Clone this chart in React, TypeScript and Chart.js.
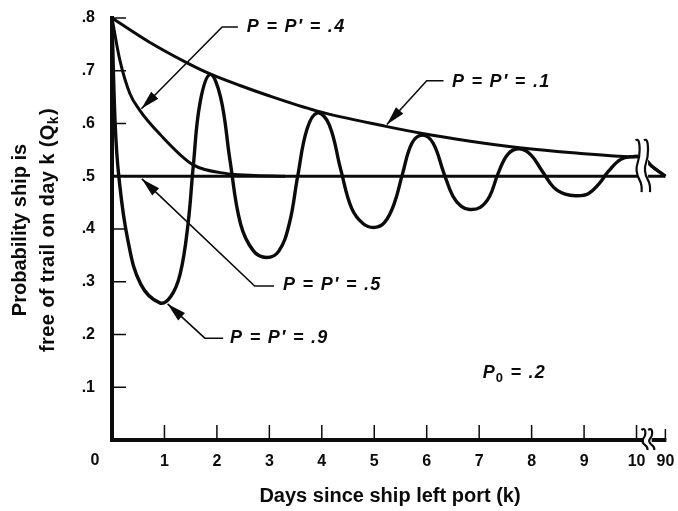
import React, { useEffect, useRef } from 'react';
import { Chart, registerables } from 'chart.js';

Chart.register(...registerables);

const SANS = '"Liberation Sans", Arial, Helvetica, sans-serif';
const INK = '#0b0b0b';

// x axis: days since the ship left port; last tick is day 90 (after an axis break)
const xTickValues = [0, 1, 2, 3, 4, 5, 6, 7, 8, 9, 10, 10.55];
const xTickLabels = ['0', '1', '2', '3', '4', '5', '6', '7', '8', '9', '10', '90'];
const yTickValues = [0, 0.1, 0.2, 0.3, 0.4, 0.5, 0.6, 0.7, 0.8];
const yTickLabels = ['', '.1', '.2', '.3', '.4', '.5', '.6', '.7', '.8'];

// P = P' = .1
const p01Days = [0, 0.7, 1.43, 1.87, 2.44, 2.95, 3.9, 5.2, 5.92, 6.8, 7.77, 8.85, 9.92, 10.12, 10.28, 10.55];
const p01Prob = [0.8, 0.755, 0.715, 0.694, 0.672, 0.654, 0.624, 0.595, 0.581, 0.567, 0.554, 0.544, 0.537, 0.536, 0.52, 0.5];

// P = P' = .4
const p04Days = [0, 0.15, 0.34, 0.53, 0.91, 1.54, 2.19, 2.63, 3.3];
const p04Prob = [0.8, 0.72, 0.657, 0.625, 0.58, 0.522, 0.505, 0.502, 0.5];

// P = P' = .5
const p05Days = [0, 10.55];
const p05Prob = [0.5, 0.5];

// P = P' = .9
const p09Days = [
  0, 0.06, 0.13, 0.3, 0.55, 0.91, 1.12, 1.3, 1.45, 1.55, 1.68, 1.87, 2.07, 2.25, 2.45, 2.7, 2.95, 3.18, 3.38,
  3.54, 3.72, 3.92, 4.14, 4.36, 4.57, 4.79, 5.01, 5.2, 5.38, 5.54, 5.72, 5.92, 6.12, 6.32, 6.5, 6.66, 6.82,
  7.02, 7.2, 7.36, 7.55, 7.77, 7.99, 8.2, 8.42, 8.64, 8.86, 9.08, 9.28, 9.47, 9.7, 9.92, 10.12, 10.28, 10.55,
];
const p09Prob = [
  0.8, 0.6, 0.5, 0.38, 0.295, 0.26, 0.272, 0.315, 0.41, 0.52, 0.64, 0.693, 0.65, 0.53, 0.41, 0.358, 0.346,
  0.358, 0.41, 0.5, 0.59, 0.62, 0.598, 0.513, 0.439, 0.41, 0.403, 0.413, 0.448, 0.505, 0.563, 0.578,
  0.563, 0.508, 0.462, 0.443, 0.437, 0.441, 0.462, 0.505, 0.542, 0.552, 0.54, 0.51, 0.479, 0.466, 0.463,
  0.467, 0.485, 0.51, 0.532, 0.537, 0.536, 0.52, 0.5,
];

// callout labels: text anchor and leader path (data units), last point = arrow tip
const callouts = [
  { text: 'P = P′ = .4', anchor: [2.57, 0.783], path: [[2.4, 0.783], [2.1, 0.783], [0.56, 0.628]] },
  { text: 'P = P′ = .1', anchor: [6.48, 0.679], path: [[6.32, 0.681], [6.0, 0.681], [5.24, 0.598]] },
  { text: 'P = P′ = .5', anchor: [3.26, 0.294], path: [[3.09, 0.292], [2.72, 0.292], [0.57, 0.495]] },
  { text: 'P = P′ = .9', anchor: [2.25, 0.193], path: [[2.12, 0.193], [1.77, 0.193], [1.06, 0.258]] },
];
const p0Note = { main: 'P', sub: '0', rest: ' = .2', anchor: [7.07, 0.127] };

const yTitleLine1 = 'Probability ship is';
const yTitleLine2 = ['free of trail on day k (Q', 'k', ')'];
const xTitle = 'Days since ship left port (k)';

function series(days: number[], prob: number[]) {
  return days.map((d, i) => ({ x: d, y: prob[i] }));
}

function squiggle(ctx: CanvasRenderingContext2D, cx: number, yTop: number, yBot: number) {
  const h = yBot - yTop;
  ctx.beginPath();
  ctx.moveTo(cx - 3, yTop + 1);
  ctx.quadraticCurveTo(cx + 1, yTop - 2, cx + 1, yTop + h * 0.2);
  ctx.bezierCurveTo(cx + 1, yTop + h * 0.45, cx - 3, yTop + h * 0.45, cx - 2, yTop + h * 0.6);
  ctx.bezierCurveTo(cx - 1, yTop + h * 0.8, cx + 4, yTop + h * 0.75, cx + 3, yBot);
  ctx.stroke();
}

const decorations = {
  id: 'decorations',
  afterDatasetsDraw(chart: any) {
    const { ctx, chartArea } = chart;
    const xs = chart.scales.x;
    const ys = chart.scales.y;
    const X = (v: number) => xs.getPixelForValue(v);
    const Y = (v: number) => ys.getPixelForValue(v);
    ctx.save();
    ctx.strokeStyle = INK;
    ctx.fillStyle = INK;

    // break in the curves
    ctx.fillStyle = '#fff';
    ctx.fillRect(X(10.03), Y(0.58), X(10.22) - X(10.03), Y(0.465) - Y(0.58));
    ctx.fillStyle = INK;
    ctx.lineWidth = 2.2;
    squiggle(ctx, X(10.04), Y(0.57), Y(0.47));
    squiggle(ctx, X(10.2), Y(0.57), Y(0.47));

    // axes
    const x0 = X(0);
    const yb = Y(0);
    ctx.lineCap = 'butt';
    ctx.lineWidth = 4;
    ctx.beginPath();
    ctx.moveTo(x0, Y(0.8) - 2);
    ctx.lineTo(x0, yb + 2);
    ctx.stroke();
    ctx.beginPath();
    ctx.moveTo(x0 - 2, yb);
    ctx.lineTo(X(10.14), yb);
    ctx.moveTo(X(10.29), yb);
    ctx.lineTo(X(10.55) + 1, yb);
    ctx.stroke();
    ctx.lineWidth = 2.2;
    squiggle(ctx, X(10.15), yb - 11, yb + 10);
    squiggle(ctx, X(10.28), yb - 11, yb + 10);

    // inner tick marks
    ctx.lineWidth = 1.5;
    ctx.beginPath();
    yTickValues.forEach((v) => {
      if (v === 0) return;
      ctx.moveTo(x0, Y(v));
      ctx.lineTo(x0 + 14, Y(v));
    });
    xTickValues.forEach((v, i) => {
      if (v === 0) return;
      const len = i === xTickValues.length - 1 ? 11 : 15;
      ctx.moveTo(X(v), yb);
      ctx.lineTo(X(v), yb - len);
    });
    ctx.stroke();

    // origin label
    ctx.font = `bold 16px ${SANS}`;
    ctx.textAlign = 'center';
    ctx.textBaseline = 'middle';
    ctx.fillText(xTickLabels[0], x0 - 17, yb + 21);

    // callouts
    callouts.forEach((c) => {
      const pts = c.path.map(([k, q]) => [X(k), Y(q)]);
      ctx.lineWidth = 1.6;
      ctx.beginPath();
      ctx.moveTo(pts[0][0], pts[0][1]);
      for (let i = 1; i < pts.length; i++) ctx.lineTo(pts[i][0], pts[i][1]);
      ctx.stroke();
      const [tx, ty] = pts[pts.length - 1];
      const [px, py] = pts[pts.length - 2];
      const ang = Math.atan2(ty - py, tx - px);
      const L = 19;
      const W = 5;
      const bx = tx - Math.cos(ang) * L;
      const by = ty - Math.sin(ang) * L;
      ctx.beginPath();
      ctx.moveTo(tx, ty);
      ctx.lineTo(bx - Math.sin(ang) * W, by + Math.cos(ang) * W);
      ctx.lineTo(bx + Math.sin(ang) * W, by - Math.cos(ang) * W);
      ctx.closePath();
      ctx.fill();
      ctx.font = `italic bold 18px ${SANS}`;
      ctx.textAlign = 'left';
      ctx.textBaseline = 'middle';
      (ctx as any).letterSpacing = '1.3px';
      ctx.fillText(c.text, X(c.anchor[0]), Y(c.anchor[1]));
      (ctx as any).letterSpacing = '0px';
    });

    // P0 note
    {
      const ax = X(p0Note.anchor[0]);
      const ay = Y(p0Note.anchor[1]);
      ctx.textAlign = 'left';
      ctx.textBaseline = 'middle';
      ctx.font = `italic bold 18px ${SANS}`;
      ctx.fillText(p0Note.main, ax, ay);
      const w1 = ctx.measureText(p0Note.main).width;
      ctx.font = `bold 13px ${SANS}`;
      ctx.fillText(p0Note.sub, ax + w1 + 1, ay + 5);
      const w2 = ctx.measureText(p0Note.sub).width;
      ctx.font = `italic bold 18px ${SANS}`;
      (ctx as any).letterSpacing = '1.3px';
      ctx.fillText(p0Note.rest, ax + w1 + w2 + 2, ay);
      (ctx as any).letterSpacing = '0px';
    }

    // y-axis title (two lines, rotated)
    const midY = (chartArea.top + chartArea.bottom) / 2 + 1;
    ctx.textBaseline = 'alphabetic';
    ctx.save();
    ctx.translate(26, midY);
    ctx.rotate(-Math.PI / 2);
    ctx.font = `bold 20px ${SANS}`;
    ctx.textAlign = 'center';
    ctx.fillText(yTitleLine1, 0, 0);
    ctx.restore();

    ctx.save();
    ctx.translate(54, midY);
    ctx.rotate(-Math.PI / 2);
    ctx.textAlign = 'left';
    (ctx as any).letterSpacing = '0.4px';
    ctx.font = `bold 20px ${SANS}`;
    const a = ctx.measureText(yTitleLine2[0]).width;
    const c2 = ctx.measureText(yTitleLine2[2]).width;
    ctx.font = `bold 14px ${SANS}`;
    const b = ctx.measureText(yTitleLine2[1]).width;
    const start = -(a + b + c2 + 1) / 2;
    ctx.font = `bold 20px ${SANS}`;
    ctx.fillText(yTitleLine2[0], start, 0);
    ctx.font = `bold 14px ${SANS}`;
    ctx.fillText(yTitleLine2[1], start + a, 4);
    ctx.font = `bold 20px ${SANS}`;
    ctx.fillText(yTitleLine2[2], start + a + b + 1, 0);
    (ctx as any).letterSpacing = '0px';
    ctx.restore();

    ctx.restore();
  },
};

export default function App() {
  const ref = useRef<HTMLCanvasElement | null>(null);

  useEffect(() => {
    if (!ref.current) return;
    const line = (days: number[], prob: number[], width: number, smooth: 'monotone' | 'spline') => ({
      data: series(days, prob),
      borderColor: INK,
      borderWidth: width,
      pointRadius: 0,
      fill: false,
      ...(smooth === 'monotone'
        ? { cubicInterpolationMode: 'monotone' as const }
        : { cubicInterpolationMode: 'default' as const, tension: 0.4 }),
    });
    const chart = new Chart(ref.current, {
      type: 'line',
      data: {
        datasets: [
          { label: "P = P' = .1", ...line(p01Days, p01Prob, 3, 'monotone') },
          { label: "P = P' = .4", ...line(p04Days, p04Prob, 3, 'monotone') },
          { label: "P = P' = .5", ...line(p05Days, p05Prob, 3, 'monotone') },
          { label: "P = P' = .9", ...line(p09Days, p09Prob, 3.4, 'spline') },
        ],
      },
      options: {
        responsive: false,
        animation: false,
        devicePixelRatio: 1,
        layout: { padding: { top: 18, right: 10, bottom: 0, left: 0 } },
        plugins: { legend: { display: false }, tooltip: { enabled: false } },
        scales: {
          x: {
            type: 'linear',
            min: 0,
            max: 10.6,
            afterBuildTicks: (s: any) => {
              s.ticks = xTickValues.map((v) => ({ value: v }));
            },
            afterFit: (s: any) => {
              s.height = 71;
            },
            grid: { display: false, drawTicks: true, tickLength: 12 },
            border: { display: false },
            ticks: {
              autoSkip: false,
              maxRotation: 0,
              padding: 0,
              color: INK,
              font: { family: SANS, size: 16, weight: 'bold' },
              callback: (_v: any, i: number) => (i === 0 ? '' : xTickLabels[i]),
            },
            title: {
              display: true,
              text: xTitle,
              color: INK,
              font: { family: SANS, size: 20, weight: 'bold' },
              padding: { top: 2, bottom: 3 },
            },
          },
          y: {
            type: 'linear',
            min: 0,
            max: 0.8,
            afterBuildTicks: (s: any) => {
              s.ticks = yTickValues.map((v) => ({ value: v }));
            },
            afterFit: (s: any) => {
              s.width = 112;
            },
            grid: { display: false, drawTicks: true, tickLength: 17 },
            border: { display: false },
            ticks: {
              padding: 0,
              color: INK,
              font: { family: SANS, size: 16, weight: 'bold' },
              callback: (_v: any, i: number) => yTickLabels[i],
            },
          },
        },
      },
      plugins: [decorations],
    });
    return () => chart.destroy();
  }, []);

  return (
    <div style={{ position: 'fixed', left: 0, top: 0, width: 678, height: 511, background: '#fff' }}>
      <canvas ref={ref} width={678} height={511} style={{ display: 'block', width: 678, height: 511 }} />
    </div>
  );
}
